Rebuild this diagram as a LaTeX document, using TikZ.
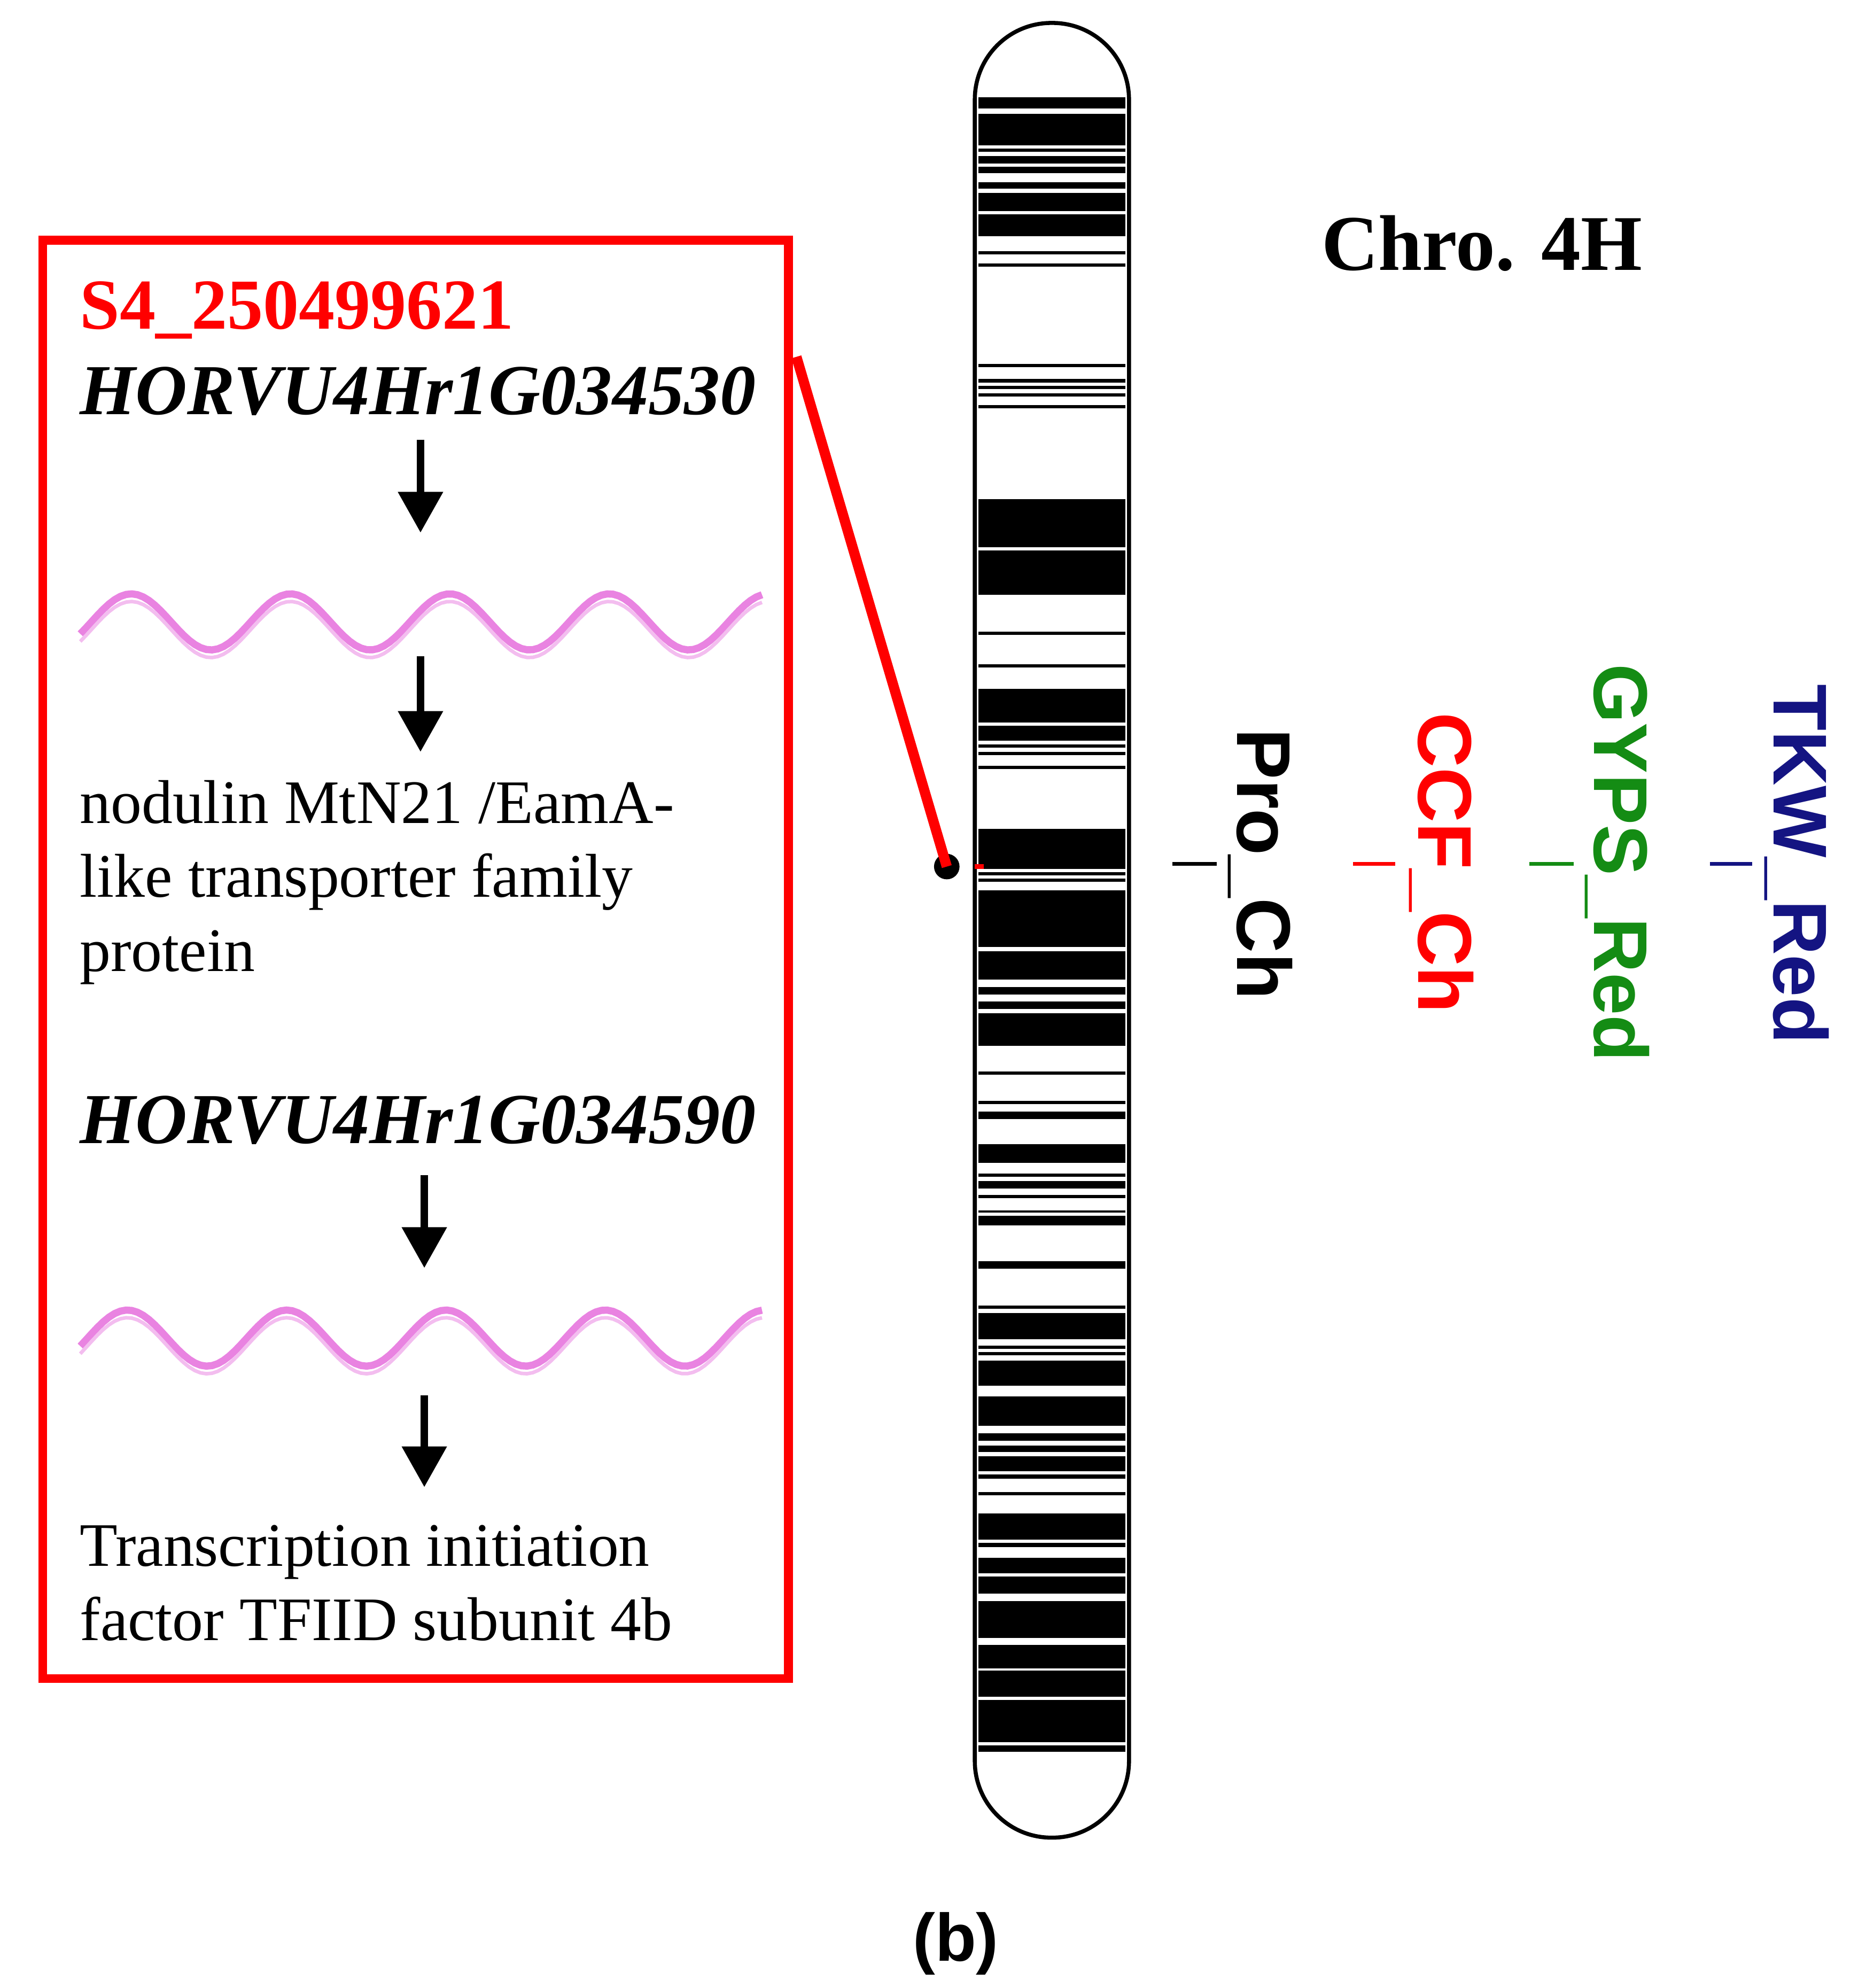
\documentclass[tikz,border=0pt]{standalone}
\usepackage{fontspec}
\setmainfont{Liberation Serif}
\newfontfamily\sansb{Liberation Sans}
\usetikzlibrary{arrows.meta}
\definecolor{wavepink}{RGB}{225,90,215}
\definecolor{lblgreen}{RGB}{20,140,20}
\definecolor{lblnavy}{RGB}{20,20,130}
\begin{document}
\begin{tikzpicture}[x=0.01cm,y=-0.01cm,
  flow/.style={line width=0.06cm,-{Triangle[width=0.34cm,length=0.32cm]}},
  head/.style={anchor=base west,inner sep=0pt,font=\fontsize{16}{19}\selectfont\bfseries},
  desc/.style={anchor=base west,inner sep=0pt,align=left,font=\fontsize{13.8}{16.5}\selectfont},
  lbl/.style={anchor=base,rotate=-90,inner sep=0pt,font=\sansb\fontsize{17}{20}\selectfont\bfseries},
  tick/.style={line width=0.8pt},
  wave/.style={wavepink,line width=1.6pt,opacity=0.75}]
\useasboundingbox (0,0) rectangle (1464,1560);
% box
\node[draw=red,line width=0.07cm,minimum width=5.85cm,minimum height=11.28cm,anchor=north west,inner sep=0pt] (box) at (30,185) {};
\node[head,text=red] (snp) at (62,258) {S4\_250499621};
\node[head,font=\fontsize{16}{19}\selectfont\bfseries\itshape] (g1) at (62,325) {HORVU4Hr1G034530};
\coordinate (a1s) at (330,345); \coordinate (a1e) at (330,418);
\draw[flow] (a1s) -- (a1e);
\draw[wave] plot[domain=63:598,samples=120] (\x,{488-22*cos((\x-103)/125*360)});
\draw[wavepink!40,line width=0.8pt] plot[domain=63:598,samples=120] (\x,{494-22*cos((\x-103)/125*360)});
\coordinate (a2s) at (330,515); \coordinate (a2e) at (330,590);
\draw[flow] (a2s) -- (a2e);
\node[desc] (d1) at (62,762) {nodulin MtN21 /EamA-\\like transporter family\\protein};
\node[head,font=\fontsize{16}{19}\selectfont\bfseries\itshape] (g2) at (62,897) {HORVU4Hr1G034590};
\coordinate (a3s) at (333,922); \coordinate (a3e) at (333,995);
\draw[flow] (a3s) -- (a3e);
\draw[wave] plot[domain=63:598,samples=120] (\x,{1050-22*cos((\x-100)/125*360)});
\draw[wavepink!40,line width=0.8pt] plot[domain=63:598,samples=120] (\x,{1056-22*cos((\x-100)/125*360)});
\coordinate (a4s) at (333,1095); \coordinate (a4e) at (333,1167);
\draw[flow] (a4s) -- (a4e);
\node[desc] (d2) at (62,1287) {Transcription initiation\\factor TFIID subunit 4b};
% chromosome
\foreach \a/\b in {32/52,62/120,126/132,140/154,160/172,188/200,208/242,248/288,316/322,338/344,524/530,552/558,564/570,578/584,600/606,774/862,868/950,1018/1024,1078/1084,1124/1186,1192/1220,1226/1232,1240/1246,1266/1272,1382/1456,1462/1468,1474/1480,1496/1580}
  \fill (768,{62.9+0.425*\a}) rectangle (883,{62.9+0.425*\b});
\foreach \a/\b in {0/22,30/82,96/110,122/136,144/204,252/258,306/312,326/340,386/420,440/446,454/468,480/486,508/512,518/536,602/616,684/690,698/746,758/764,770/776,786/832,852/906,920/934,942/954,962/990,996/1004,1028/1034,1068/1116,1122/1130,1150/1178,1184/1216,1230/1298,1310/1354,1358/1406,1412/1490,1496/1508}
  \fill (768,{733.8+0.425*\a}) rectangle (883,{733.8+0.425*\b});
\draw[line width=0.9pt,rounded corners=0.6cm] (765,18) rectangle (886,1442);
\draw[red,line width=1pt] (765,680) -- (772,680);
% connector
\coordinate (boxpt) at (625,280);
\node[circle,fill=black,inner sep=0pt,minimum size=0.2cm] (dot) at (743,680) {};
\draw[red,line width=0.08cm] (boxpt) -- (dot.center);
% title
\node[anchor=base,inner sep=0pt,font=\fontsize{17.6}{20}\selectfont\bfseries] (title) at (1163,212) {Chro. 4H};
% traits
\node[lbl] (t1) at (971,678) {Pro\_Ch};
\node[lbl,text=red] (t2) at (1113,677) {CCF\_Ch};
\node[lbl,text=lblgreen] (t3) at (1251,677) {GYPS\_Red};
\node[lbl,text=lblnavy] (t4) at (1392,678) {TKW\_Red};
\coordinate (k1a) at (920,678); \coordinate (k1b) at (955,678);
\coordinate (k2a) at (1062,678); \coordinate (k2b) at (1095,678);
\coordinate (k3a) at (1200,678); \coordinate (k3b) at (1235,678);
\coordinate (k4a) at (1342,678); \coordinate (k4b) at (1375,678);
\draw[tick] (k1a) -- (k1b);
\draw[tick,red] (k2a) -- (k2b);
\draw[tick,lblgreen] (k3a) -- (k3b);
\draw[tick,lblnavy] (k4a) -- (k4b);
\node[inner sep=0pt,font=\sansb\fontsize{15}{18}\selectfont\bfseries] (cap) at (750,1525) {(b)};
\end{tikzpicture}
\end{document}
